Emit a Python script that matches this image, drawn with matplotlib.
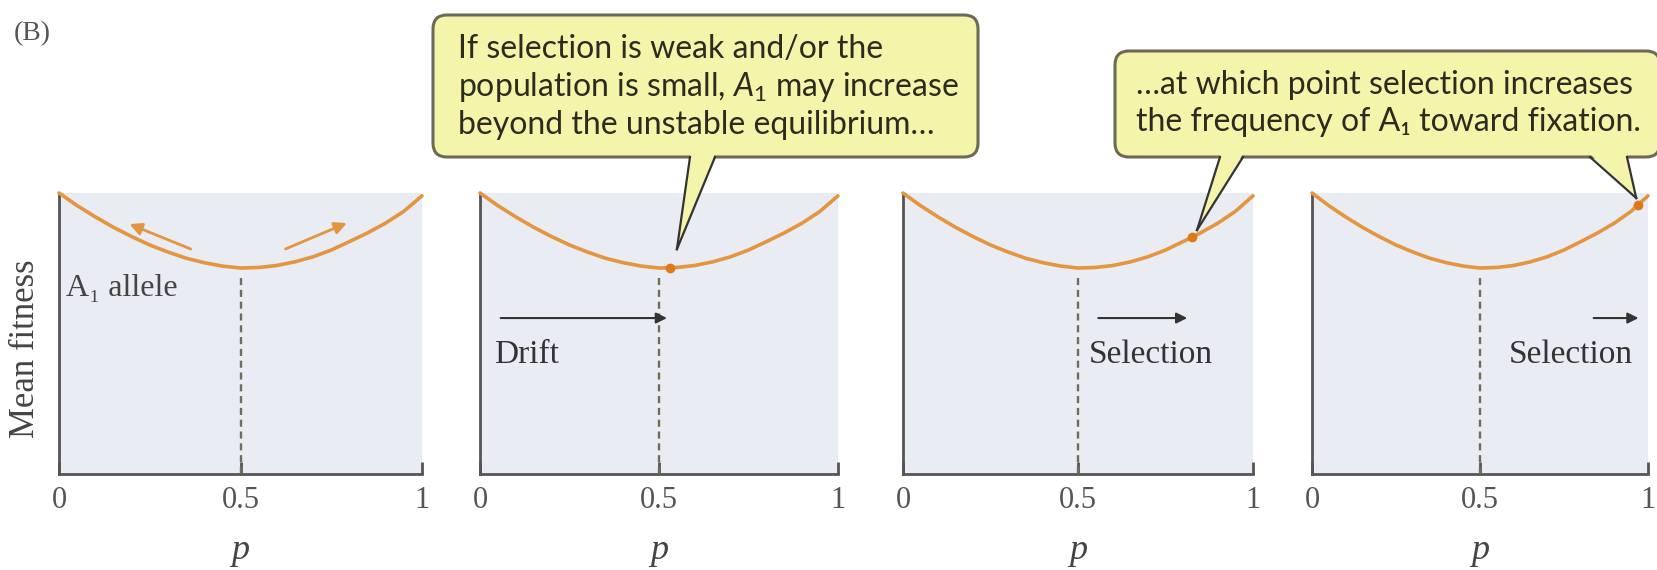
import numpy as np
import matplotlib
matplotlib.use("Agg")
import matplotlib.pyplot as plt
from matplotlib.patches import FancyBboxPatch, Polygon
from matplotlib.lines import Line2D

plt.rcParams['mathtext.fontset'] = 'custom'
plt.rcParams['mathtext.it'] = 'Lato:italic'
plt.rcParams['mathtext.rm'] = 'Lato'

# ---- data ----
allele_freq = [0.0, 0.05, 0.10, 0.15, 0.20, 0.25, 0.30, 0.35, 0.40, 0.45, 0.50,
               0.55, 0.60, 0.65, 0.70, 0.75, 0.80, 0.85, 0.90, 0.95, 1.0]
mean_fitness = [1.0, 0.955, 0.915, 0.878, 0.845, 0.815, 0.790, 0.768, 0.752, 0.740, 0.733,
                0.735, 0.742, 0.755, 0.773, 0.797, 0.827, 0.858, 0.893, 0.935, 0.990]
x_ticks = [0, 0.5, 1]
x_tick_labels = ['0', '0.5', '1']
unstable_eq = 0.5
marker_p = [None, 0.53, 0.826, 0.97]
force_start = [None, 0.05, 0.55, 0.83]
force_end = [None, 0.53, 0.82, 0.98]
force_labels = [None, 'Drift', 'Selection', 'Selection']
force_label_x = [None, 0.04, 0.53, 0.585]
callout1_lines = ["If selection is weak and/or the",
                  "population is small, $A_1$ may increase",
                  "beyond the unstable equilibrium\u2026"]
callout2_lines = ["\u2026at which point selection increases",
                  "the frequency of A\u2081 toward fixation."]

W, H = 1657, 570
fig = plt.figure(figsize=(W / 100, H / 100), dpi=100)

SERIF = ['Liberation Serif', 'DejaVu Serif']
SANS = ['Lato', 'DejaVu Sans']
ORANGE = '#e3953f'
DOT = '#e07818'
GREY = '#555555'
BG = '#e9ecf2'

panel_px = [(59, 363), (480, 358), (903, 350), (1312, 336)]
bottom_px, top_px = 474, 193
axes = []
for i, (l, w) in enumerate(panel_px):
    ax = fig.add_axes([l / W, 1 - bottom_px / H, w / W, (bottom_px - top_px) / H])
    axes.append(ax)
    ax.set_facecolor(BG)
    ax.set_xlim(0, 1)
    ax.set_ylim(0, 1)
    ax.plot(allele_freq, mean_fitness, color=ORANGE, lw=2.6, clip_on=False,
            solid_capstyle='round', zorder=4)
    ax.plot([unstable_eq, unstable_eq], [0, 0.70], color='#6d6d5a', lw=1.7,
            ls=(0, (3, 2)), zorder=3)
    for s in ['top', 'right']:
        ax.spines[s].set_visible(False)
    for s in ['left', 'bottom']:
        ax.spines[s].set_color(GREY)
        ax.spines[s].set_linewidth(2)
    ax.set_yticks([])
    ax.set_xticks(x_ticks)
    ax.set_xticklabels(x_tick_labels)
    ax.tick_params(axis='x', direction='in', length=9, width=2, color=GREY,
                   pad=9, labelsize=22, labelcolor=GREY)
    for lab in ax.get_xticklabels():
        lab.set_family(SERIF)
    ax.set_xlabel('p', fontsize=26, fontstyle='italic', family=SERIF, color='#444444')
    ax.xaxis.set_label_coords(0.5, -0.215)

    if marker_p[i] is not None:
        yv = np.interp(marker_p[i], allele_freq, mean_fitness)
        ax.plot([marker_p[i]], [yv], 'o', color=DOT, ms=6, zorder=5, clip_on=False)
    if force_labels[i] is not None:
        ax.annotate('', xy=(force_end[i], 0.555), xytext=(force_start[i], 0.555),
                    arrowprops=dict(arrowstyle='-|>', color='#333333', lw=1.5,
                                    mutation_scale=16))
        ax.text(force_label_x[i], 0.425, force_labels[i], fontsize=24,
                family=SERIF, color='#333333', va='center', ha='left')

# panel 1 extras
ax0 = axes[0]
ax0.annotate('', xy=(0.187, 0.893), xytext=(0.37, 0.797),
             arrowprops=dict(arrowstyle='-|>', color=ORANGE, lw=2, mutation_scale=18))
ax0.annotate('', xy=(0.80, 0.897), xytext=(0.617, 0.797),
             arrowprops=dict(arrowstyle='-|>', color=ORANGE, lw=2, mutation_scale=18))
ax0.text(0.02, 0.66, 'A\u2081 allele', fontsize=23, family=SERIF, color='#444444',
         va='center', ha='left')
ax0.set_ylabel('Mean fitness', fontsize=25, family=SERIF, color='#444444')
ax0.yaxis.set_label_coords(-0.047, 0.445)

fig.text(14 / W, 1 - 34 / H, '(B)', fontsize=20, family=SERIF, color=GREY,
         va='center', ha='left')

# ---- callout overlay (pixel coordinates) ----
ov = fig.add_axes([0, 0, 1, 1], zorder=20)
ov.set_xlim(0, W)
ov.set_ylim(H, 0)
ov.axis('off')
ov.patch.set_alpha(0)

FILL = '#f4f4aa'
EDGE = '#6b6b55'


def to_px(ax, x, y):
    d = ax.transData.transform((x, y))
    return d[0], H - d[1]


def callout(x, y, w, h, lines, tx, ty0, dy, pointers):
    box = FancyBboxPatch((x, y), w, h, boxstyle='round,pad=0,rounding_size=14',
                         facecolor=FILL, edgecolor=EDGE, lw=2.2, zorder=1)
    ov.add_patch(box)
    for (b1, b2, tip) in pointers:
        yb = y + h
        ov.add_patch(Polygon([(b1, yb - 3), tip, (b2, yb - 3)], closed=True,
                             facecolor=FILL, edgecolor='none', zorder=2))
        ov.add_line(Line2D([b1, tip[0]], [yb, tip[1]], color='#333333', lw=1.6, zorder=3))
        ov.add_line(Line2D([b2, tip[0]], [yb, tip[1]], color='#333333', lw=1.6, zorder=3))
    for j, line in enumerate(lines):
        ov.text(tx, ty0 + j * dy, line, fontsize=23, family=SANS, color='#2b2b1e',
                va='center', ha='left', zorder=4)


callout(433, 15, 545, 142, callout1_lines, 458, 49, 38,
        [(690, 715, to_px(axes[1], 0.55, 0.80))])
callout(1115, 51, 545, 106, callout2_lines, 1136, 85, 37,
        [(1220, 1243, to_px(axes[2], 0.84, 0.868)),
         (1590, 1627, to_px(axes[3], 0.965, 0.982))])

fig.savefig('out.png', dpi=100)
